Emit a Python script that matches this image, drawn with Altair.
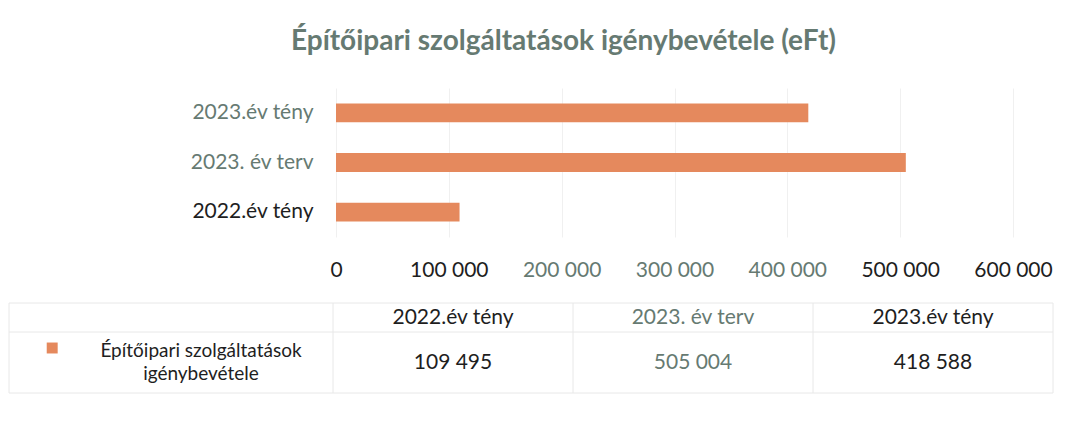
import altair as alt
import pandas as pd

# ---- data ----
categories = ["2022.év tény", "2023. év terv", "2023.év tény"]
values = [109495, 505004, 418588]
series_label = ["Építőipari szolgáltatások", "igénybevétele"]
x_ticks = [0, 100000, 200000, 300000, 400000, 500000, 600000]
title_text = "Építőipari szolgáltatások igénybevétele (eFt)"

# ---- styles ----
FONT = "Lato"
ORANGE = "#E5895D"
GG = "#667a72"      # grey-green text
DARK = "#1e1e1e"
LINE = "#e8e8e8"
GRID = "#f0f0f0"

PLOT_W = 717
BAR_RANGE = 677
PLOT_H = 149

bars_df = pd.DataFrame({"cat": categories, "val": values})

bars = alt.Chart(bars_df).mark_bar(color=ORANGE).encode(
    x=alt.X("val:Q",
            scale=alt.Scale(domain=[0, 600000], range=[0, BAR_RANGE], nice=False),
            axis=alt.Axis(values=x_ticks, title=None, grid=True, gridColor=GRID,
                          ticks=False, domain=False, labelPadding=22,
                          labelOverlap=False, labelBound=False, labelFlush=False,
                          labelFont=FONT, labelFontSize=21,
                          labelColor={"condition": {"test": "datum.value >= 200000 && datum.value <= 400000", "value": GG}, "value": DARK},
                          labelExpr="replace(format(datum.value, ','), ',', ' ')")),
    y=alt.Y("cat:N", sort=categories[::-1],
            scale=alt.Scale(paddingInner=0.62, paddingOuter=0.31),
            axis=alt.Axis(title=None, ticks=False, domain=False, labelPadding=23,
                          labelFont=FONT, labelFontSize=21, labelLimit=300,
                          labelColor={"condition": {"test": "datum.value === '2022.év tény'", "value": DARK}, "value": GG})),
)

# ---- data table (below the plot) ----
tx = alt.Scale(domain=[-1.35, 3], range=[-3 - 1.35 * 240, PLOT_W], nice=False, zero=False)
ty = alt.Scale(domain=[0, 90], range=[215, 305], nice=False, zero=False)

col_color = {0: DARK, 1: GG, 2: DARK}
cells = []
for i, (c, v) in enumerate(zip(categories, values)):
    cells.append({"x": i + 0.5, "y": 15, "txt": c, "col": col_color[i], "kind": "cell"})
    cells.append({"x": i + 0.5, "y": 60, "txt": f"{v:,}".replace(",", " "), "col": col_color[i], "kind": "cell"})
for j, s in enumerate(series_label):
    cells.append({"x": -0.55, "y": 48 + 23 * j, "txt": s, "col": DARK, "kind": "label"})
cells_df = pd.DataFrame(cells)

def text_layer(df, size):
    return alt.Chart(df).mark_text(font=FONT, fontSize=size, baseline="middle", align="center").encode(
        x=alt.X("x:Q", scale=tx, axis=None),
        y=alt.Y("y:Q", scale=ty, axis=None),
        text="txt:N",
        color=alt.Color("col:N", scale=None),
    )

texts_main = text_layer(cells_df[cells_df.kind == "cell"], 21)
texts_label = text_layer(cells_df[cells_df.kind == "label"], 19)

hl_df = pd.DataFrame({"x": [-1.35] * 3, "x2": [3] * 3, "y": [0, 29, 90]})
hlines = alt.Chart(hl_df).mark_rule(color=LINE, strokeWidth=1).encode(
    x=alt.X("x:Q", scale=tx, axis=None), x2="x2:Q",
    y=alt.Y("y:Q", scale=ty, axis=None),
)
vl_df = pd.DataFrame({"x": [-1.35, 0, 1, 2, 3], "y": [0] * 5, "y2": [90] * 5})
vlines = alt.Chart(vl_df).mark_rule(color=LINE, strokeWidth=1).encode(
    x=alt.X("x:Q", scale=tx, axis=None),
    y=alt.Y("y:Q", scale=ty, axis=None), y2="y2:Q",
)

key_df = pd.DataFrame({"x": [-1.17], "y": [45]})
key = alt.Chart(key_df).mark_square(color=ORANGE, size=120, opacity=1).encode(
    x=alt.X("x:Q", scale=tx, axis=None),
    y=alt.Y("y:Q", scale=ty, axis=None),
)

table = alt.layer(hlines, vlines, texts_main, texts_label, key)

chart = alt.layer(bars, table).resolve_scale(x="independent", y="independent").properties(
    width=PLOT_W, height=PLOT_H,
    title=alt.TitleParams(title_text, font=FONT, fontSize=28, fontWeight="bold", color=GG,
                          anchor="middle", frame="group", dx=-131, offset=32),
    autosize=alt.AutoSizeParams(type="none"),
    padding={"left": 328, "top": 80, "right": 10, "bottom": 170},
    background="white",
).configure_view(stroke=None)

chart.save("out.html", embed_options={"renderer": "svg", "actions": False})
